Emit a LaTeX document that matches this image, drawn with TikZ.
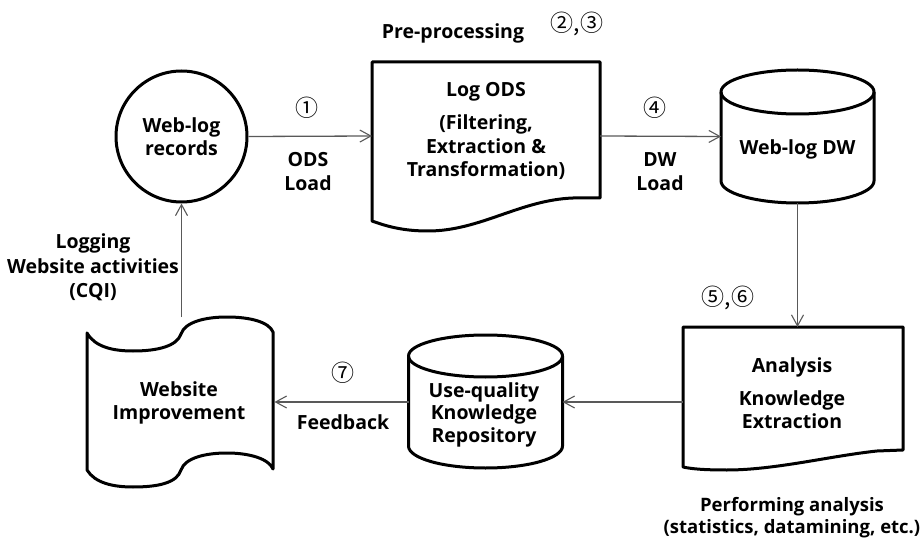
\documentclass[tikz,border=0pt]{standalone}
\usepackage{fontspec}
\setmainfont{Open Sans}
\newfontfamily\circfont{Noto Sans CJK KR}
\usetikzlibrary{arrows.meta}
\tikzset{
  shapeline/.style={draw=black, line width=3pt, line join=round},
  conn/.style={draw=black!65, line width=1.3pt, -{Straight Barb[length=11pt,width=12pt,line width=1.1pt]}},
  lbl/.style={font={\fontsize{19.5}{23.5}\selectfont\bfseries}, align=center, inner sep=0pt},
  smalllbl/.style={lbl, font={\fontsize{18.5}{22}\selectfont\bfseries}},
  num/.style={font={\circfont\fontsize{23}{24}\selectfont}, inner sep=0pt},
  geom/.style={draw=none, inner sep=0pt, outer sep=0pt}
}
\begin{document}
\begin{tikzpicture}[x=1pt,y=-1pt]
\useasboundingbox (0,0) rectangle (924,540);
% ---------- Web-log records (circle)
\node[shapeline, circle, minimum size=131pt, lbl] (web) at (181.5,136.5) {Web-log\\records};
% ---------- Log ODS (document)
\node[geom, minimum width=228pt, minimum height=148pt] (ods) at (486,136) {};
\draw[shapeline] (372,62) -- (600,62) -- (600,198) -- (573,198)
  .. controls (520,200) and (480,231) .. (428,231)
  .. controls (402,231) and (386,226) .. (372,221) -- cycle;
\node[lbl] (odstext) at (486,131) {Log ODS\\[10pt](Filtering,\\Extraction \&\\Transformation)};
% ---------- Web-log DW (cylinder)
\node[geom, minimum width=153pt, minimum height=133pt] (dw) at (797.5,136.5) {};
\draw[shapeline] (721,92) -- (721,181)
  .. controls (721,193) and (755.25,203) .. (797.5,203)
  .. controls (839.75,203) and (874,193) .. (874,181) -- (874,92);
\draw[shapeline] (797.5,92) ellipse [x radius=76.5, y radius=22];
\node[lbl] (dwtext) at (797.5,149) {Web-log DW};
% ---------- Analysis (document)
\node[geom, minimum width=220pt, minimum height=150pt] (ana) at (793,402) {};
\draw[shapeline] (683,327) -- (903,327) -- (903,450) -- (877,451)
  .. controls (830,456) and (775,470) .. (727,470)
  .. controls (705,470) and (692,469) .. (683,467) -- cycle;
\node[lbl] (anatext) at (792,393.5) {Analysis\\[9pt]Knowledge\\Extraction};
% ---------- Use-quality Knowledge Repository (cylinder)
\node[geom, minimum width=154pt, minimum height=134pt] (uq) at (485.5,402) {};
\draw[shapeline] (408.5,356) -- (408.5,446)
  .. controls (408.5,458.2) and (442.7,468) .. (485.5,468)
  .. controls (528.3,468) and (562.5,458.2) .. (562.5,446) -- (562.5,356);
\draw[shapeline] (485.5,356) ellipse [x radius=77, y radius=21];
\node[lbl, font={\fontsize{19.5}{22.5}\selectfont\bfseries}] (uqtext) at (484,414.5) {Use-quality\\Knowledge\\Repository};
% ---------- Website Improvement (punched tape)
\node[geom, minimum width=186pt, minimum height=170pt] (wi) at (181.5,402) {};
\draw[shapeline] (87,333)
  .. controls (95,347) and (113,351) .. (133,351)
  .. controls (158,351) and (177,346) .. (181,334)
  .. controls (185,322) and (205,317) .. (227,317)
  .. controls (250,317) and (269,322) .. (273,332)
  -- (273,469)
  .. controls (269,459) and (250,453) .. (227,453)
  .. controls (205,453) and (185,458) .. (181,470)
  .. controls (177,483) and (158,487) .. (133,487)
  .. controls (113,487) and (95,483) .. (87,470) -- cycle;
\node[lbl] (witext) at (179,403) {Website\\Improvement};
% ---------- connectors
\draw[conn] (web.east) -- (ods.west);
\draw[conn] (ods.east) -- (dw.west);
\draw[conn] (dw.south) -- (dw.south |- ana.north);
\draw[conn] (ana.west) -- (uq.east);
\draw[conn] (uq.west) -- (wi.east);
\draw[conn] (wi.north -| web.south) -- (web.south);
% ---------- labels
\node[num] (n1) at (307,108) {①};
\node[lbl] (odsload) at (308,171.5) {ODS\\Load};
\node[lbl] (pre) at (453,33) {Pre-processing};
\node[num] (n23) at (577,24) {②,③};
\node[num] (n4) at (655,108) {④};
\node[lbl] (dwload) at (660,171.5) {DW\\Load};
\node[num] (n56) at (728,298) {⑤,⑥};
\node[num] (n7) at (343,373) {⑦};
\node[lbl] (fb) at (343,422) {Feedback};
\node[lbl, font={\fontsize{19.5}{24.5}\selectfont\bfseries}] (log) at (93,267.5) {Logging\\Website activities\\(CQI)};
\node[smalllbl] (perf) at (792,517.5) {Performing analysis\\(statistics, datamining, etc.)};
\end{tikzpicture}
\end{document}
